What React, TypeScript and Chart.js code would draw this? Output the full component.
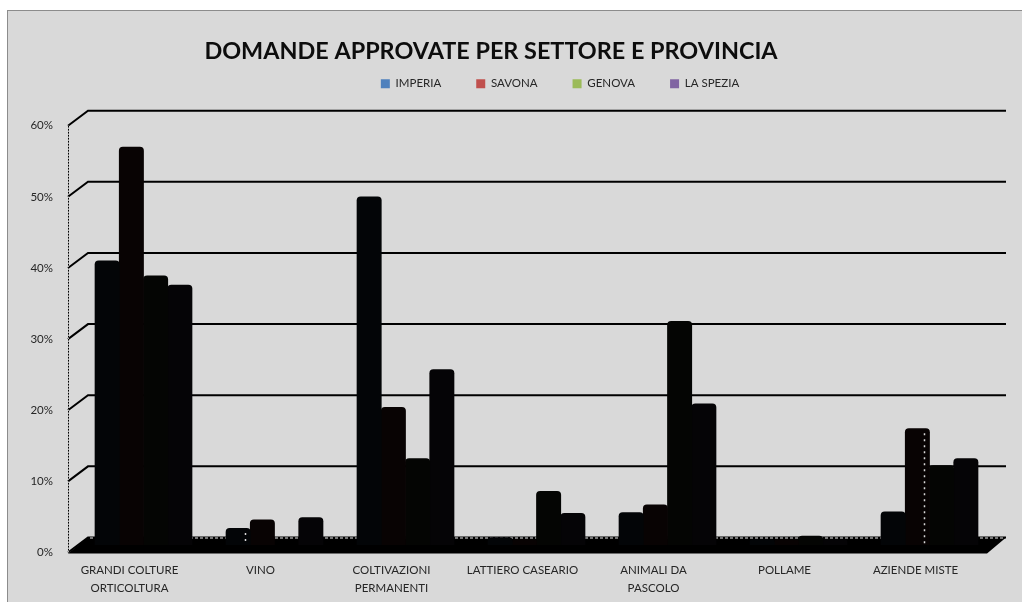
import React, { useEffect, useRef } from "react";
import { Chart, registerables } from "chart.js";

Chart.register(...registerables);

const categories = [
  ["GRANDI COLTURE", "ORTICOLTURA"],
  "VINO",
  ["COLTIVAZIONI", "PERMANENTI"],
  "LATTIERO CASEARIO",
  ["ANIMALI DA", "PASCOLO"],
  "POLLAME",
  "AZIENDE MISTE",
];
const imperia = [40, 2.4, 49, 1.1, 4.6, 0.8, 4.7];
const savona = [56, 3.6, 19.4, 0.8, 5.7, 0.8, 16.4];
const genova = [37.9, 0, 12.2, 7.6, 31.5, 1.3, 11.2];
const laSpezia = [36.6, 3.9, 24.7, 4.5, 19.9, 0.8, 12.2];
const seriesNames = ["IMPERIA", "SAVONA", "GENOVA", "LA SPEZIA"];
const legendColors = ["#4f81bd", "#c0504d", "#9bbb59", "#8064a2"];
const barColors = ["#030507", "#080303", "#040503", "#050406"];
const yTicks = [0, 10, 20, 30, 40, 50, 60];
const title = "DOMANDE APPROVATE PER SETTORE E PROVINCIA";
const FONT = "Lato, 'Open Sans', sans-serif";
const dottedBars = [
  [0, 1],
  [1, 6],
];

const depth = 7.5;
const skew = 10;

const scenePlugin = {
  id: "scene",
  afterLayout(chart: any) {
    const t = chart.titleBlock;
    const h = t.bottom - t.top;
    t.left = -13;
    t.right = 995;
    t.top = 51 - h / 2;
    t.bottom = t.top + h;
    const l = chart.legend;
    const pad = l.options.labels.padding;
    const lh = l.bottom - l.top;
    l.left = 200;
    l.right = 920;
    l.top = 78 - pad;
    l.bottom = l.top + lh;
  },
  beforeDatasetsDraw(chart: any) {
    const { ctx, chartArea: a, scales } = chart;
    const y = scales.y;
    const x0 = a.left - skew;
    const x1 = a.left + skew;
    const x2 = a.right + skew + 1;
    ctx.save();
    ctx.strokeStyle = "#000";
    yTicks.forEach((v) => {
      const p = y.getPixelForValue(v);
      ctx.lineWidth = 2;
      ctx.beginPath();
      ctx.moveTo(x0, p + depth);
      ctx.lineTo(x1, p - depth);
      ctx.lineTo(x2, p - depth);
      ctx.stroke();
    });
    const base = y.getPixelForValue(0);
    const top = y.getPixelForValue(60);
    // floor
    ctx.fillStyle = "#000";
    ctx.beginPath();
    ctx.moveTo(x0, base + depth + 1);
    ctx.lineTo(a.right - skew + 2, base + depth + 1);
    ctx.lineTo(x2, base - depth);
    ctx.lineTo(x1, base - depth);
    ctx.closePath();
    ctx.fill();
    ctx.lineWidth = 1;
    ctx.strokeStyle = "#e8e8e8";
    ctx.setLineDash([3, 2]);
    ctx.beginPath();
    ctx.moveTo(x1 + 2, base - depth + 0.5);
    ctx.lineTo(x2 - 2, base - depth + 0.5);
    ctx.stroke();
    // front axis
    ctx.setLineDash([]);
    ctx.strokeStyle = "#ffffff";
    ctx.beginPath();
    ctx.moveTo(x0 + 0.5, top + depth);
    ctx.lineTo(x0 + 0.5, base + depth);
    ctx.stroke();
    ctx.strokeStyle = "#000";
    ctx.setLineDash([2, 1]);
    ctx.beginPath();
    ctx.moveTo(x0 + 0.5, top + depth);
    ctx.lineTo(x0 + 0.5, base + depth);
    ctx.stroke();
    ctx.restore();
  },
  afterDatasetsDraw(chart: any) {
    const { ctx } = chart;
    ctx.save();
    ctx.strokeStyle = "#d8d8d8";
    ctx.lineWidth = 1.5;
    ctx.setLineDash([2, 4]);
    dottedBars.forEach(([ds, i]) => {
      const bar = chart.getDatasetMeta(ds).data[i];
      ctx.beginPath();
      ctx.moveTo(Math.round(bar.x + 7) + 0.5, bar.y + 5);
      ctx.lineTo(Math.round(bar.x + 7) + 0.5, bar.base);
      ctx.stroke();
    });
    ctx.restore();
  },
};

export default function App() {
  const ref = useRef<HTMLCanvasElement>(null);
  useEffect(() => {
    const values = [imperia, savona, genova, laSpezia];
    const chart = new Chart(ref.current!, {
      type: "bar",
      data: {
        labels: categories,
        datasets: seriesNames.map((name, i) => ({
          label: name,
          data: values[i],
          backgroundColor: barColors[i],
          borderSkipped: "bottom",
          borderRadius: { topLeft: 4, topRight: 4, bottomLeft: 0, bottomRight: 0 },
          categoryPercentage: 0.74,
          barPercentage: 1.03,
        })),
      },
      options: {
        responsive: false,
        animation: false,
        devicePixelRatio: 1,
        layout: { padding: { top: 33.6, right: 27, left: 0, bottom: 0 } },
        plugins: {
          tooltip: { enabled: false },
          title: {
            display: true,
            text: title,
            color: "#0d0d0d",
            padding: 0,
            font: { family: FONT, size: 23.4, weight: "bold" },
          },
          legend: {
            display: true,
            position: "top",
            labels: {
              boxWidth: 9,
              boxHeight: 9,
              padding: 35,
              color: "#262626",
              font: { family: FONT, size: 11.5 },
              generateLabels: () =>
                seriesNames.map((text, i) => ({
                  text,
                  fillStyle: legendColors[i],
                  strokeStyle: legendColors[i],
                  lineWidth: 0,
                  datasetIndex: i,
                  fontColor: "#262626",
                })),
            },
          },
        },
        scales: {
          x: {
            offset: true,
            grid: { display: false, drawTicks: false },
            border: { display: false },
            afterFit: (s: any) => {
              s.height = 57;
            },
            ticks: {
              autoSkip: false,
              maxRotation: 0,
              minRotation: 0,
              padding: 16,
              labelOffset: -14,
              color: "#262626",
              font: { family: FONT, size: 11.5, lineHeight: 1.56 },
            },
          },
          y: {
            min: 0,
            max: 60,
            grid: { display: false, drawTicks: false },
            border: { display: false },
            afterFit: (s: any) => {
              s.width = 78;
            },
            ticks: {
              stepSize: 10,
              padding: 25,
              labelOffset: 7.5,
              color: "#262626",
              font: { family: FONT, size: 11.5 },
              callback: (v: any) => `${v}%`,
            },
          },
        },
      },
      plugins: [scenePlugin],
    } as any);
    return () => chart.destroy();
  }, []);
  return (
    <div style={{ position: "fixed", left: 0, top: 0, width: 1022, height: 602, background: "#fff", overflow: "hidden" }}>
      <div
        style={{
          position: "absolute",
          left: 7,
          top: 10,
          width: 1015,
          height: 592,
          boxSizing: "border-box",
          background: "#d9d9d9",
          borderLeft: "1.5px solid #8c8c8c",
          borderTop: "1.5px solid #8c8c8c",
        }}
      />
      <canvas ref={ref} width={1022} height={602} style={{ position: "absolute", left: 0, top: 0, display: "block" }} />
    </div>
  );
}
